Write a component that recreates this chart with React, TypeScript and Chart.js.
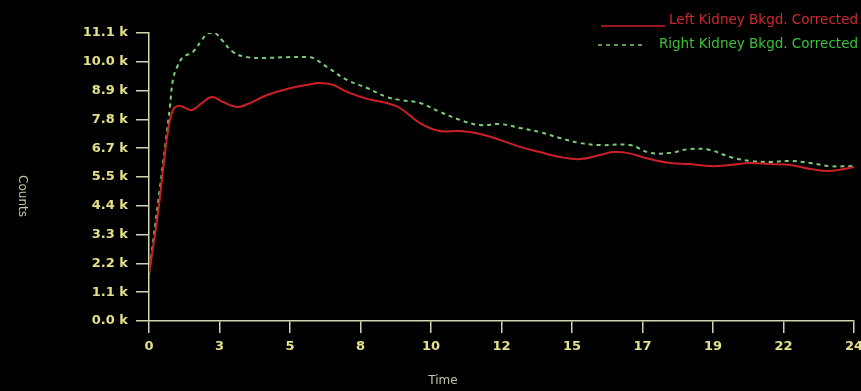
import React, { useEffect, useRef } from "react";
import { Chart, registerables } from "chart.js";

Chart.register(...registerables);

// X axis tick labels (evenly spaced ticks), time in min
const xTickLabels = ["0", "3", "5", "8", "10", "12", "15", "17", "19", "22", "24"];
const xMax = 23.6;
// Y axis tick labels
const yTickLabels = ["0.0 k", "1.1 k", "2.2 k", "3.3 k", "4.4 k", "5.5 k", "6.7 k", "7.8 k", "8.9 k", "10.0 k", "11.1 k"];
const yStep = 1110;

const seriesNames = ["Left Kidney Bkgd. Corrected", "Right Kidney Bkgd. Corrected"];

// Left kidney
const leftTimes = [0, 0.27, 0.47, 0.64, 0.8, 0.97, 1.14, 1.44, 1.77, 2.11, 2.48, 2.95, 3.38, 3.95, 4.62, 5.29, 5.73, 6.16, 6.63, 7.3, 7.97, 8.4, 9.07, 9.74, 10.41, 11.08, 11.75, 12.42, 13.09, 13.76, 14.43, 15.1, 15.53, 16.0, 16.77, 17.44, 18.11, 18.78, 19.45, 20.12, 20.79, 21.46, 22.13, 22.8, 23.6];
const leftCounts = [1850, 3890, 5820, 7360, 8130, 8290, 8250, 8130, 8400, 8630, 8440, 8250, 8400, 8710, 8940, 9100, 9170, 9100, 8830, 8560, 8400, 8210, 7630, 7320, 7320, 7210, 6980, 6710, 6510, 6320, 6240, 6400, 6510, 6480, 6240, 6090, 6050, 5970, 6010, 6090, 6050, 6010, 5860, 5780, 5940];

// Right kidney
const rightTimes = [0, 0.37, 0.54, 0.7, 0.8, 0.94, 1.14, 1.47, 1.77, 1.98, 2.21, 2.44, 2.81, 3.28, 3.95, 4.62, 5.29, 5.49, 5.96, 6.63, 7.3, 7.97, 8.4, 9.07, 9.74, 10.41, 11.08, 11.75, 12.42, 13.09, 13.76, 14.43, 15.1, 16.1, 16.77, 17.44, 18.11, 18.78, 19.45, 20.12, 20.79, 21.46, 22.13, 22.8, 23.6];
const rightCounts = [1800, 5160, 6710, 8250, 9290, 9790, 10170, 10370, 10830, 11100, 11100, 10830, 10370, 10170, 10140, 10170, 10170, 10140, 9790, 9290, 8980, 8630, 8520, 8400, 8060, 7750, 7550, 7590, 7440, 7280, 7050, 6860, 6780, 6780, 6480, 6480, 6630, 6590, 6320, 6170, 6130, 6170, 6090, 5970, 5970];

const RED = "#cc2028";
const GREEN = "#7ccc78";
const AXIS = "#d4d4b0";
const TICK_TEXT = "#e4e08a";
const TITLE_TEXT = "#c4c4a4";

const bgPlugin = {
  id: "bg",
  beforeDraw(chart: any) {
    const ctx = chart.ctx;
    ctx.save();
    ctx.fillStyle = "#000000";
    ctx.fillRect(0, 0, chart.width, chart.height);
    ctx.restore();
  },
};

const decorPlugin = {
  id: "decor",
  afterDraw(chart: any) {
    const ctx = chart.ctx;
    const area = chart.chartArea;
    ctx.save();
    // Legend
    ctx.font = "13.5px 'DejaVu Sans'";
    ctx.textAlign = "right";
    ctx.textBaseline = "middle";
    ctx.fillStyle = "#d02830";
    ctx.fillText(seriesNames[0], 858, 20);
    ctx.strokeStyle = RED;
    ctx.lineWidth = 1.5;
    ctx.beginPath();
    ctx.moveTo(601, 26);
    ctx.lineTo(665, 26);
    ctx.stroke();
    ctx.fillStyle = "#3cc03c";
    ctx.fillText(seriesNames[1], 858, 44);
    ctx.strokeStyle = GREEN;
    ctx.setLineDash([4, 4]);
    ctx.beginPath();
    ctx.moveTo(598, 45);
    ctx.lineTo(645, 45);
    ctx.stroke();
    ctx.setLineDash([]);
    // Axis titles
    ctx.fillStyle = TITLE_TEXT;
    ctx.font = "12px 'DejaVu Sans'";
    ctx.textAlign = "center";
    ctx.textBaseline = "middle";
    ctx.fillText("Time", 443, 381);
    ctx.translate(22, 196);
    ctx.rotate(Math.PI / 2);
    ctx.fillText("Counts", 0, 0);
    ctx.restore();
  },
};

export default function App() {
  const ref = useRef<HTMLCanvasElement | null>(null);

  useEffect(() => {
    document.body.style.margin = "0";
    document.body.style.background = "#000";
    const canvas = ref.current;
    if (!canvas) return;
    const tickFont = { family: "'DejaVu Sans'", size: 13, weight: "bold" as const };
    const chart = new Chart(canvas, {
      type: "line",
      data: {
        datasets: [
          {
            label: seriesNames[0],
            data: leftTimes.map((t, i) => ({ x: t, y: leftCounts[i] })),
            borderColor: RED,
            borderWidth: 2,
            pointRadius: 0,
            tension: 0.4,
            fill: false,
          },
          {
            label: seriesNames[1],
            data: rightTimes.map((t, i) => ({ x: t, y: rightCounts[i] })),
            borderColor: GREEN,
            borderWidth: 2,
            borderDash: [4, 4],
            pointRadius: 0,
            tension: 0.4,
            fill: false,
          },
        ],
      },
      options: {
        animation: false,
        responsive: false,
        devicePixelRatio: 1,
        layout: { padding: { left: 0, right: 7, top: 33, bottom: 0 } },
        plugins: { legend: { display: false }, tooltip: { enabled: false } },
        scales: {
          x: {
            type: "linear",
            min: 0,
            max: xMax,
            afterBuildTicks: (scale: any) => {
              scale.ticks = xTickLabels.map((_, i) => ({ value: (i * xMax) / (xTickLabels.length - 1) }));
            },
            afterFit: (scale: any) => {
              scale.height = 70;
              scale.paddingLeft = 0;
              scale.paddingRight = 0;
            },
            ticks: {
              autoSkip: false,
              maxRotation: 0,
              padding: 6,
              color: TICK_TEXT,
              font: tickFont,
              callback: (_v: any, i: number) => xTickLabels[i],
            },
            grid: { drawOnChartArea: false, drawTicks: true, tickLength: 12, color: AXIS, lineWidth: 1.5 },
            border: { display: true, color: AXIS, width: 1.5 },
          },
          y: {
            min: 0,
            max: yStep * (yTickLabels.length - 1),
            afterBuildTicks: (scale: any) => {
              scale.ticks = yTickLabels.map((_, i) => ({ value: i * yStep }));
            },
            afterFit: (scale: any) => {
              scale.width = 149;
              scale.paddingTop = 0;
              scale.paddingBottom = 0;
            },
            ticks: {
              autoSkip: false,
              padding: 8,
              color: TICK_TEXT,
              font: tickFont,
              callback: (_v: any, i: number) => yTickLabels[i],
            },
            grid: { drawOnChartArea: false, drawTicks: true, tickLength: 13, color: AXIS, lineWidth: 1.5 },
            border: { display: true, color: AXIS, width: 1.5 },
          },
        },
      },
      plugins: [bgPlugin, decorPlugin],
    });
    return () => chart.destroy();
  }, []);

  return (
    <div style={{ width: 861, height: 391, background: "#000" }}>
      <canvas ref={ref} width={861} height={391} style={{ display: "block", width: 861, height: 391 }} />
    </div>
  );
}
